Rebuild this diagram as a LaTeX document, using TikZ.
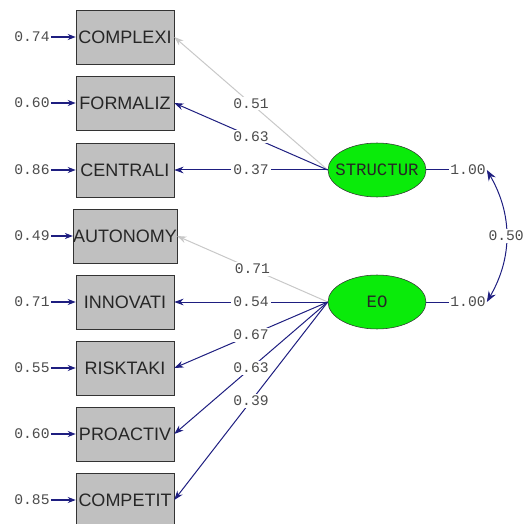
\documentclass[tikz,border=0pt]{standalone}
\usepackage{fontspec}
\setmainfont{Liberation Sans}
\newfontfamily\monofont{Liberation Mono}
\usetikzlibrary{arrows.meta,shapes.geometric}
\definecolor{lnavy}{RGB}{30,30,128}
\definecolor{lgray}{RGB}{200,200,200}
\definecolor{boxgray}{RGB}{192,192,192}
\definecolor{lvgreen}{RGB}{10,235,10}
\tikzset{
  obsbox/.style={draw=black!80, fill=boxgray, minimum width=73.5pt, minimum height=40.5pt, inner sep=0pt, font=\fontsize{13.5}{13.5}\selectfont, text=black!85},
  latvar/.style={ellipse, draw=black!80, fill=lvgreen, minimum width=73.5pt, minimum height=40.5pt, inner xsep=-5.5pt, inner ysep=0pt, font=\monofont\fontsize{13}{13}\selectfont, text=black!85},
  numlab/.style={font=\monofont\fontsize{11}{11}\selectfont, text=black!70, inner sep=0.75pt},
  ldlab/.style={numlab, fill=white, inner sep=1.5pt},
  loadline/.style={draw=lnavy, line width=0.75pt, -{Stealth[length=7pt,width=5pt]}},
  weakline/.style={draw=lgray, line width=0.75pt, -{Stealth[length=7pt,width=5pt]}},
  errarr/.style={draw=lnavy, line width=1.5pt, -{Stealth[length=6pt,width=4.5pt]}}
}
\begin{document}
\begin{tikzpicture}[x=0.75pt,y=0.75pt,yscale=-1,xscale=1]
\useasboundingbox (0,0) rectangle (528,524);

% observed variables
\node[obsbox] (complexi) at (125,37) {COMPLEXI};
\node[obsbox] (formaliz) at (125,103) {FORMALIZ};
\node[obsbox] (centrali) at (125,170) {CENTRALI};
\node[obsbox] (autonomy) at (125,236) {AUTONOMY};
\node[obsbox] (innovati) at (125,302) {INNOVATI};
\node[obsbox] (risktaki) at (125,368) {RISKTAKI};
\node[obsbox] (proactiv) at (125,434) {PROACTIV};
\node[obsbox] (competit) at (125,500) {COMPETIT};

% latent variables
\node[latvar] (structur) at (377,170) {STRUCTUR};
\node[latvar] (eo) at (377,302) {EO};

% error variances
\node[numlab] (ecomplexi) at (32,37) {0.74};
\node[numlab] (eformaliz) at (32,103) {0.60};
\node[numlab] (ecentrali) at (32,170) {0.86};
\node[numlab] (eautonomy) at (32,236) {0.49};
\node[numlab] (einnovati) at (32,302) {0.71};
\node[numlab] (erisktaki) at (32,368) {0.55};
\node[numlab] (eproactiv) at (32,434) {0.60};
\node[numlab] (ecompetit) at (32,500) {0.85};
\draw[errarr] (ecomplexi) -- (complexi);
\draw[errarr] (eformaliz) -- (formaliz);
\draw[errarr] (ecentrali) -- (centrali);
\draw[errarr] (eautonomy) -- (autonomy);
\draw[errarr] (einnovati) -- (innovati);
\draw[errarr] (erisktaki) -- (risktaki);
\draw[errarr] (eproactiv) -- (proactiv);
\draw[errarr] (ecompetit) -- (competit);

% loadings
\draw[weakline] (structur.west) -- node[ldlab] {0.51} (complexi.east);
\draw[loadline] (structur.west) -- node[ldlab] {0.63} (formaliz.east);
\draw[loadline] (structur.west) -- node[ldlab] {0.37} (centrali.east);
\draw[weakline] (eo.west) -- node[ldlab] {0.71} (autonomy.east);
\draw[loadline] (eo.west) -- node[ldlab] {0.54} (innovati.east);
\draw[loadline] (eo.west) -- node[ldlab] {0.67} (risktaki.east);
\draw[loadline] (eo.west) -- node[ldlab] {0.63} (proactiv.east);
\draw[loadline] (eo.west) -- node[ldlab] {0.39} (competit.east);

% latent variances and covariance
\node[numlab] (vstructur) at (468,170) {1.00};
\node[numlab] (veo) at (468,302) {1.00};
\draw[lnavy, line width=0.75pt] (structur.east) -- (vstructur.west);
\draw[lnavy, line width=0.75pt] (eo.east) -- (veo.west);
\draw[lnavy, line width=0.75pt, {Stealth[length=8pt,width=6pt]}-{Stealth[length=8pt,width=6pt]}]
  (vstructur.east) to[bend right=30] node[ldlab] {0.50} (veo.east);

\end{tikzpicture}
\end{document}
